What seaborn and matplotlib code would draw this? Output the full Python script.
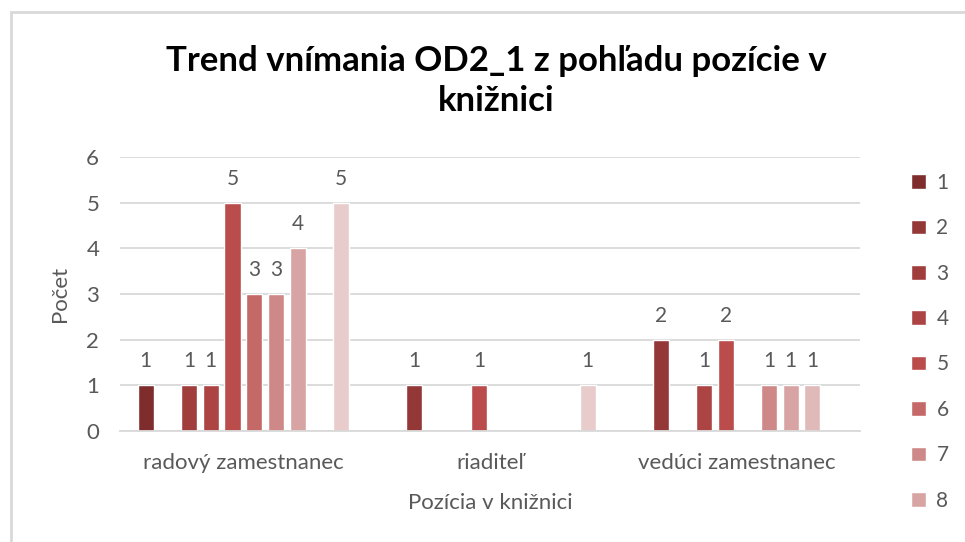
import matplotlib
matplotlib.use('Agg')
import matplotlib.pyplot as plt
from matplotlib.patches import Rectangle
import seaborn as sns
import pandas as pd

# data
categories = ['radový zamestnanec', 'riaditeľ', 'vedúci zamestnanec']
series = ['1', '2', '3', '4', '5', '6', '7', '8', '9', '10']
radovy = [1, 0, 1, 1, 5, 3, 3, 4, 0, 5]
riaditel = [0, 1, 0, 0, 1, 0, 0, 0, 0, 1]
veduci = [0, 2, 0, 1, 2, 0, 1, 1, 1, 0]
colors = ['#7e2c2c', '#933737', '#a03e3e', '#ad4444', '#bb4c4c',
          '#c56868', '#cf8888', '#d8a3a3', '#e0b9b9', '#e8cbcb']
legend_shown = 8  # the reference legend only fits entries 1-8

rows = []
for cat, vals in zip(categories, [radovy, riaditel, veduci]):
    for s, v in zip(series, vals):
        rows.append({'Pozícia': cat, 'Séria': s, 'Počet': v})
df = pd.DataFrame(rows)

sns.set_style('white')
plt.rcParams['font.family'] = ['Lato', 'DejaVu Sans']
txt = '#595959'

fig = plt.figure(figsize=(9.65, 5.42), dpi=100)
ax = fig.add_axes([0.1244, 0.2048, 0.7666, 0.5055])

sns.barplot(data=df, x='Pozícia', y='Počet', hue='Séria', order=categories,
            hue_order=series, palette=colors, width=0.88, gap=0.26,
            saturation=1, ax=ax, legend=True)

for cont in ax.containers:
    labels = ['%d' % b.get_height() if b.get_height() > 0 else '' for b in cont]
    ax.bar_label(cont, labels=labels, padding=10, color=txt, fontsize=15)

ax.set_ylim(0, 6)
ax.set_xlim(-0.5, 2.5)
ax.set_yticks(range(0, 7))
ax.yaxis.grid(True, color='#d9d9d9', linewidth=1.3)
ax.set_axisbelow(True)
for sp in ['top', 'right', 'left']:
    ax.spines[sp].set_visible(False)
ax.spines['bottom'].set_color('#d9d9d9')
ax.spines['bottom'].set_linewidth(1.3)
ax.tick_params(axis='y', length=0, colors=txt, labelsize=16, pad=15)
ax.tick_params(axis='x', length=0, colors=txt, labelsize=16, pad=16)
ax.set_ylabel('Počet', color=txt, fontsize=16, labelpad=12)
ax.set_xlabel('Pozícia v knižnici', color=txt, fontsize=16, labelpad=14)

handles, labs = ax.get_legend_handles_labels()
ax.legend(handles[:legend_shown], labs[:legend_shown], loc='upper left',
          bbox_to_anchor=(0.925, 0.716),
          bbox_transform=fig.transFigure, frameon=False, fontsize=15,
          labelcolor=txt, handlelength=0.7, handleheight=0.7,
          handletextpad=0.5, labelspacing=1.22)

fig.text(0.514, 0.85, 'Trend vnímania OD2_1 z pohľadu pozície v\nknižnici',
         ha='center', va='center', fontsize=25, fontweight='bold',
         linespacing=1.3, color='black')

fig.patches.append(Rectangle((11 / 965, -0.1), 1.2, 1 - 12 / 542 + 0.1,
                             transform=fig.transFigure, fill=False,
                             edgecolor='#d9d9d9', linewidth=2))

plt.savefig('out.png', dpi=100)
plt.close()
